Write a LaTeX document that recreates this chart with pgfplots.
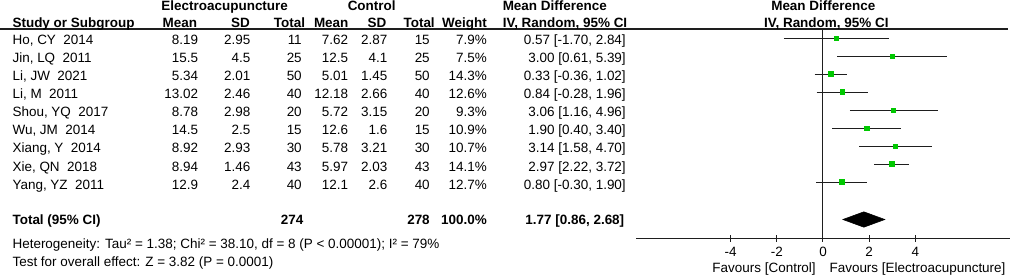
\documentclass[border=0pt]{standalone}
\usepackage{pgfplots}
\pgfplotsset{compat=1.18}
\usepackage{fontspec}
\setmainfont{Liberation Sans}
\definecolor{sqgreen}{RGB}{0,200,0}
\definecolor{ln}{RGB}{30,30,30}
\newcommand\fs{\fontsize{10.1}{12}\selectfont}
% study row: baseline y, name, m1, s1, n1, m2, s2, n2, weight
\newcommand\srow[9]{%
  \node[anchor=base west] at (12.3,#1) {#2};
  \node[anchor=base east] at (198.3,#1) {#3};
  \node[anchor=base east] at (250.7,#1) {#4};
  \node[anchor=base east] at (302,#1) {#5};
  \node[anchor=base east] at (348.3,#1) {#6};
  \node[anchor=base east] at (387.7,#1) {#7};
  \node[anchor=base east] at (430,#1) {#8};
  \node[anchor=base east] at (487,#1) {#9};
}
\begin{document}
\begin{tikzpicture}[font=\fs, inner sep=0pt]
\useasboundingbox (0,0) rectangle (769.5pt,207pt);
\begin{axis}[
  at={(477pt,28.5pt)}, anchor=south west,
  scale only axis, width=280.5pt, height=156.75pt,
  xmin=-8.1, xmax=8.1, ymin=0, ymax=209,
  axis x line=bottom, axis y line=none,
  x axis line style={-, line width=0.75pt, ln},
  xtick={-4,-2,0,2,4}, xticklabels={-4,-2,0,2,4},
  tick align=center, major tick length=5.25pt,
  tick style={line width=0.75pt, ln},
  xticklabel style={font=\fs, yshift=-4.2pt},
  clip=false,
]
\addplot[ln, line width=0.75pt] coordinates {(0,0) (0,209)};
% confidence intervals
\addplot[ln, line width=0.75pt] coordinates {(-1.70,200) (2.84,200)};
\addplot[ln, line width=0.75pt] coordinates {(0.61,182) (5.39,182)};
\addplot[ln, line width=0.75pt] coordinates {(-0.36,164) (1.02,164)};
\addplot[ln, line width=0.75pt] coordinates {(-0.28,146) (1.96,146)};
\addplot[ln, line width=0.75pt] coordinates {(1.16,128) (4.96,128)};
\addplot[ln, line width=0.75pt] coordinates {(0.40,110) (3.40,110)};
\addplot[ln, line width=0.75pt] coordinates {(1.58,92) (4.70,92)};
\addplot[ln, line width=0.75pt] coordinates {(2.22,74) (3.72,74)};
\addplot[ln, line width=0.75pt] coordinates {(-0.30,56) (1.90,56)};
% point estimates
\addplot[only marks, mark=square*, mark size=1.41pt, sqgreen] coordinates {(0.57,200)};
\addplot[only marks, mark=square*, mark size=1.38pt, sqgreen] coordinates {(3.00,182)};
\addplot[only marks, mark=square*, mark size=1.90pt, sqgreen] coordinates {(0.33,164)};
\addplot[only marks, mark=square*, mark size=1.78pt, sqgreen] coordinates {(0.84,146)};
\addplot[only marks, mark=square*, mark size=1.53pt, sqgreen] coordinates {(3.06,128)};
\addplot[only marks, mark=square*, mark size=1.66pt, sqgreen] coordinates {(1.90,110)};
\addplot[only marks, mark=square*, mark size=1.64pt, sqgreen] coordinates {(3.14,92)};
\addplot[only marks, mark=square*, mark size=1.89pt, sqgreen] coordinates {(2.97,74)};
\addplot[only marks, mark=square*, mark size=1.79pt, sqgreen] coordinates {(0.80,56)};
% overall diamond
\addplot[fill=black, draw=black] coordinates {(0.86,18.5) (1.77,26.2) (2.68,18.5) (1.77,10.8)} -- cycle;
\end{axis}
\begin{scope}[x=0.75pt, y=-0.75pt, shift={(0pt,207pt)}]
\draw[ln, line width=0.8pt] (0,29) -- (1008,29);
% headers
\node[anchor=base, font=\fs\bfseries] at (224.7,10.8) {Electroacupuncture};
\node[anchor=base, font=\fs\bfseries] at (371.7,10.8) {Control};
\node[anchor=base west, font=\fs\bfseries] at (502.5,10.8) {Mean Difference};
\node[anchor=base, font=\fs\bfseries] at (823.3,10.8) {Mean Difference};
\begin{scope}[font=\fs\bfseries]
\node[anchor=base west] at (12.3,27.5) {Study or Subgroup};
\node[anchor=base east] at (197.3,27.5) {Mean};
\node[anchor=base east] at (250,27.5) {SD};
\node[anchor=base east] at (305.3,27.5) {Total};
\node[anchor=base east] at (348.7,27.5) {Mean};
\node[anchor=base east] at (386.7,27.5) {SD};
\node[anchor=base east] at (435,27.5) {Total};
\node[anchor=base east] at (487,27.5) {Weight};
\node[anchor=base west] at (502.5,27.5) {IV, Random, 95\% CI};
\node[anchor=base] at (826.3,27.5) {IV, Random, 95\% CI};
\end{scope}
% rows
\srow{44.3}{Ho, CY\ \ 2014}{8.19}{2.95}{11}{7.62}{2.87}{15}{7.9\%}
\srow{62.4}{Jin, LQ\ \ 2011}{15.5}{4.5}{25}{12.5}{4.1}{25}{7.5\%}
\srow{80.5}{Li, JW\ \ 2021}{5.34}{2.01}{50}{5.01}{1.45}{50}{14.3\%}
\srow{98.6}{Li, M\ \ 2011}{13.02}{2.46}{40}{12.18}{2.66}{40}{12.6\%}
\srow{116.7}{Shou, YQ\ \ 2017}{8.78}{2.98}{20}{5.72}{3.15}{20}{9.3\%}
\srow{134.8}{Wu, JM\ \ 2014}{14.5}{2.5}{15}{12.6}{1.6}{15}{10.9\%}
\srow{152.9}{Xiang, Y\ \ 2014}{8.92}{2.93}{30}{5.78}{3.21}{30}{10.7\%}
\srow{171.0}{Xie, QN\ \ 2018}{8.94}{1.46}{43}{5.97}{2.03}{43}{14.1\%}
\srow{189.1}{Yang, YZ\ \ 2011}{12.9}{2.4}{40}{12.1}{2.6}{40}{12.7\%}
\node[anchor=base east] at (626,44.3) {0.57 [-1.70, 2.84]};
\node[anchor=base east] at (626,62.4) {3.00 [0.61, 5.39]};
\node[anchor=base east] at (626,80.5) {0.33 [-0.36, 1.02]};
\node[anchor=base east] at (626,98.6) {0.84 [-0.28, 1.96]};
\node[anchor=base east] at (626,116.7) {3.06 [1.16, 4.96]};
\node[anchor=base east] at (626,134.8) {1.90 [0.40, 3.40]};
\node[anchor=base east] at (626,152.9) {3.14 [1.58, 4.70]};
\node[anchor=base east] at (626,171.0) {2.97 [2.22, 3.72]};
\node[anchor=base east] at (626,189.1) {0.80 [-0.30, 1.90]};
% total
\begin{scope}[font=\fs\bfseries]
\node[anchor=base west] at (12.3,224.5) {Total (95\% CI)};
\node[anchor=base east] at (303.7,224.5) {274};
\node[anchor=base east] at (430,224.5) {278};
\node[anchor=base east] at (487,224.5) {100.0\%};
\node[anchor=base east] at (624.5,224.5) {1.77 [0.86, 2.68]};
\end{scope}
\node[anchor=base west] at (12.3,248) {Heterogeneity: Tau² = 1.38; Chi² = 38.10, df = 8 (P < 0.00001); I² = 79\%};
\node[anchor=base west] at (12.3,266) {Test for overall effect: Z = 3.82 (P = 0.0001)};
\node[anchor=base east] at (816,272) {Favours [Control]};
\node[anchor=base west] at (829.3,272) {Favours [Electroacupuncture]};
\end{scope}
\end{tikzpicture}
\end{document}
